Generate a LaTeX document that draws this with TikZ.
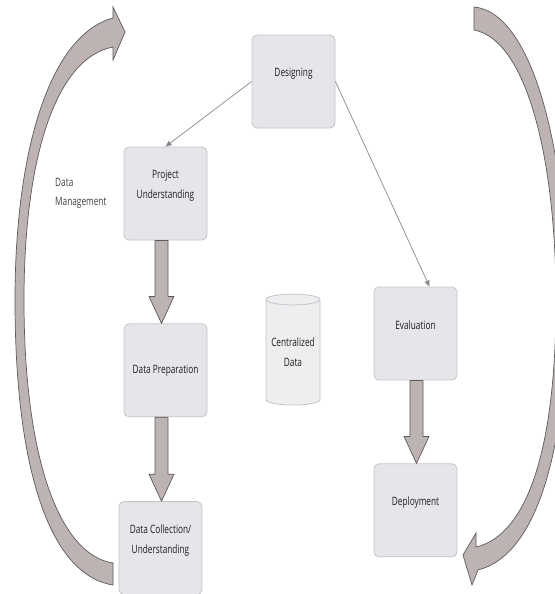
\documentclass[tikz,border=0pt]{standalone}
\usepackage{fontspec}
\setmainfont{Open Sans}[FakeStretch=0.72]
\usetikzlibrary{arrows.meta,positioning,shapes.geometric,calc}
\definecolor{cbox}{HTML}{E8E5EA}
\definecolor{cedge}{HTML}{C6C3C8}
\definecolor{cblk}{HTML}{BDB3B3}
\definecolor{cline}{HTML}{5C5A5A}
\definecolor{cthin}{HTML}{8A8888}
\definecolor{ctxt}{HTML}{1E1E1E}
\tikzset{
  stage/.style={rectangle, rounded corners=5pt, draw=cedge, line width=0.8pt, fill=cbox,
    align=center, minimum width=83, minimum height=93, inner sep=0pt,
    text=ctxt, font=\fontsize{11.5}{20}\selectfont},
  lift/.style={text height=0pt, text depth=9pt},
  lifttwo/.style={text height=10pt, text depth=0pt},
  store/.style={cylinder, shape border rotate=90, aspect=0.25, draw=cedge, line width=0.8pt,
    fill=cbox!70!white, minimum width=54, minimum height=111, inner sep=0pt,
    align=center, text=ctxt, font=\fontsize{11.5}{20}\selectfont},
  note/.style={align=left, inner sep=0pt, text=ctxt!85, font=\fontsize{11.5}{19}\selectfont},
  link/.style={-{Triangle[length=6pt,width=5pt]}, draw=cthin, line width=0.7pt},
  fat/.style={draw=cline, line width=0.7pt, fill=cblk, line join=round},
  loop/.style={draw=cline, line width=0.7pt, fill=cblk, line join=miter},
}
% block arrow from the bottom of #1 to the top of #2, shifted by #3
\newcommand{\fatarrow}[3]{%
  \draw[fat] let \p1=(#1.south), \p2=(#2.north) in
    (\x1+#3pt-6.5pt,\y1) -- (\x1+#3pt-6.5pt,\y2+27pt) -- (\x1+#3pt-12.5pt,\y2+27pt)
    -- (\x1+#3pt,\y2) -- (\x1+#3pt+12.5pt,\y2+27pt) -- (\x1+#3pt+6.5pt,\y2+27pt)
    -- (\x1+#3pt+6.5pt,\y1) -- cycle;}

\begin{document}
\begin{tikzpicture}[x=1pt, y=-1pt]
  \useasboundingbox (0,0) rectangle (554,594);

  % big loop arrows
  \path[loop] (113,585) .. controls (50,575) and (15,470) .. (15,300)
    .. controls (15,150) and (50,35) .. (113,18) -- (113,7) -- (125,32) -- (113,60) -- (113,47)
    .. controls (55,58) and (24,160) .. (24,300)
    .. controls (24,460) and (60,555) .. (113,563) -- cycle;
  \path[loop] (474,7) .. controls (532,12) and (567,150) .. (567,300)
    .. controls (567,450) and (537,555) .. (478,570) -- (472,585) -- (463,555) -- (476,533)
    -- (476,547) .. controls (527,535) and (556,450) .. (556,300)
    .. controls (556,160) and (527,40) .. (474,30) -- cycle;

  \node[stage, lift] (des) at (293.5,81.5) {Designing};
  \node[stage, lifttwo] (pu) at (165.5,193.5) {Project\\Understanding};
  \node[stage, below=83pt of pu] (dp) {Data Preparation};
  \node[stage, lifttwo, below=84pt of dp, xshift=-5pt] (dc) {Data Collection/\\Understanding};
  \node[stage, lift] (ev) at (415.5,333.5) {Evaluation};
  \node[stage, lift, below=83pt of ev] (dep) {Deployment};
  \node[store] (cdata) at (293,352.5) {Centralized\\Data};
  \node[note, anchor=north west] (dm) at (55,178) {Data\\Management};

  \draw[link] (des.west) -- (pu.north);
  \draw[link] (des.east) -- ([xshift=14pt]ev.north);
  \fatarrow{pu}{dp}{-4}
  \fatarrow{dp}{dc}{-4}
  \fatarrow{ev}{dep}{1}
\end{tikzpicture}
\end{document}
